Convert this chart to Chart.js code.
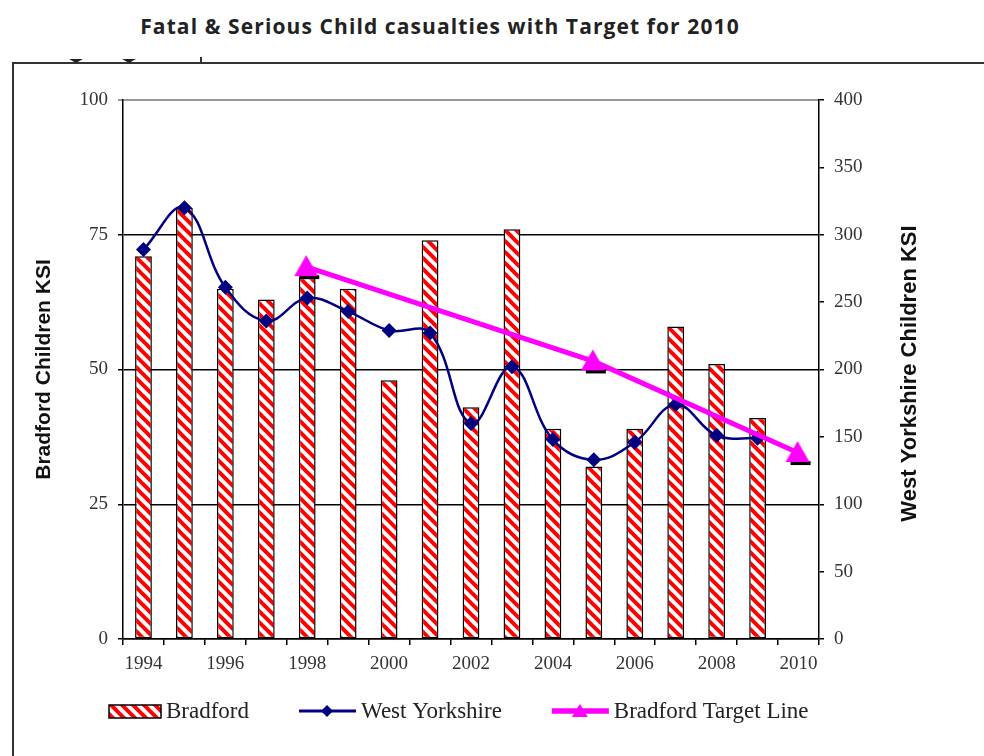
<!DOCTYPE html>
<html>
<head>
<meta charset="utf-8">
<title>Fatal &amp; Serious Child casualties with Target for 2010</title>
<script src="https://cdn.jsdelivr.net/npm/chart.js@4.4.0/dist/chart.umd.min.js"></script>
<style>
  html, body { margin: 0; padding: 0; background: #fff; width: 984px; height: 756px; overflow: hidden; }
  .title { position: absolute; left: 0; top: 12px; width: 880px; text-align: center;
    font-family: "Open Sans", sans-serif; font-weight: 700; font-size: 21px; letter-spacing: 1.1px; color: #222; }
  .frame { position: absolute; left: 12px; top: 62px; width: 1000px; height: 800px; border: 2px solid #333; }
  .nub { position: absolute; top: 59px; width: 0; height: 0; border-left: 7px solid transparent;
    border-right: 7px solid transparent; border-top: 4px solid #222; }
  .tick { position: absolute; left: 200px; top: 57px; width: 2px; height: 6px; background: #333; }
  .wrap { position: absolute; left: 0; top: 0; width: 984px; height: 756px; }
</style>
</head>
<body>
<div class="title">Fatal &amp; Serious Child casualties with Target for 2010</div>
<div class="frame"></div>
<div class="nub" style="left:69px"></div>
<div class="nub" style="left:122px"></div>
<div class="tick"></div>
<div class="wrap"><canvas id="myChart"></canvas></div>
<script>
const years = ["1994", "1995", "1996", "1997", "1998", "1999", "2000", "2001", "2002",
  "2003", "2004", "2005", "2006", "2007", "2008", "2009", "2010"];
const bradford = [71, 80, 65, 63, 67, 65, 48, 74, 43, 76, 39, 32, 39, 58, 51, 41, null];
const westYorkshire = [289, 320, 261, 236, 253, 243, 229, 227, 160, 202, 148, 133, 146, 174, 151, 149, null];
const targetLine = [null, null, null, null, 69, null, null, null, null, null, null, 51.5, null, null, null, null, 34.5];
const leftTicks = [0, 25, 50, 75, 100];
const rightTicks = [0, 50, 100, 150, 200, 250, 300, 350, 400];
const leftTitle = "Bradford Children KSI";
const rightTitle = "West Yorkshire Children KSI";

// red / white downward diagonal fill
function stripes() {
  const p = 11;
  const c = document.createElement("canvas");
  c.width = p;
  c.height = p;
  const g = c.getContext("2d");
  g.fillStyle = "#fff";
  g.fillRect(0, 0, p, p);
  g.strokeStyle = "#ff0000";
  g.lineWidth = 4;
  for (let k = -1; k <= 1; k++) {
    g.beginPath();
    g.moveTo(k * p - p, -p);
    g.lineTo(k * p + 2 * p, 2 * p);
    g.stroke();
  }
  return g.createPattern(c, "repeat");
}

// magenta triangle with the dark smudge under it
function triangleMark() {
  const c = document.createElement("canvas");
  c.width = 28;
  c.height = 28;
  const g = c.getContext("2d");
  g.fillStyle = "#000";
  g.fillRect(6, 22, 20, 4);
  g.fillStyle = "#ff00ff";
  g.beginPath();
  g.moveTo(13, 2);
  g.lineTo(25, 23);
  g.lineTo(1, 23);
  g.closePath();
  g.fill();
  return c;
}

const stripeFill = stripes();
const triImg = triangleMark();

const extras = {
  id: "extras",
  afterDraw(chart) {
    const ctx = chart.ctx;
    const y1 = chart.scales.y1;

    // right axis title reads bottom to top
    ctx.save();
    ctx.translate(910, (y1.top + y1.bottom) / 2 + 4);
    ctx.rotate(-Math.PI / 2);
    ctx.font = "bold 22px 'Liberation Sans'";
    ctx.fillStyle = "#111";
    ctx.textAlign = "center";
    ctx.textBaseline = "middle";
    ctx.fillText(rightTitle, 0, 0);
    ctx.restore();

    // legend
    ctx.save();
    let x = 109;
    const ly = 711;
    ctx.font = "23px 'Liberation Serif'";
    ctx.textBaseline = "middle";
    ctx.textAlign = "left";
    chart.data.datasets.forEach(ds => {
      if (ds.type === "bar") {
        ctx.fillStyle = ds.backgroundColor;
        ctx.fillRect(x, ly - 6, 52, 13);
        ctx.strokeStyle = "#000";
        ctx.lineWidth = 1.5;
        ctx.strokeRect(x, ly - 6, 52, 13);
        x += 53;
      } else {
        ctx.strokeStyle = ds.borderColor;
        ctx.lineWidth = ds.borderWidth + 0.5;
        ctx.beginPath();
        ctx.moveTo(x, ly);
        ctx.lineTo(x + 57, ly);
        ctx.stroke();
        const cx = x + 28;
        ctx.fillStyle = ds.borderColor;
        ctx.beginPath();
        if (ds.pointStyle === "rectRot") {
          ctx.moveTo(cx, ly - 6);
          ctx.lineTo(cx + 6, ly);
          ctx.lineTo(cx, ly + 6);
          ctx.lineTo(cx - 6, ly);
        } else {
          ctx.moveTo(cx, ly - 7);
          ctx.lineTo(cx + 8, ly + 6);
          ctx.lineTo(cx - 8, ly + 6);
        }
        ctx.closePath();
        ctx.fill();
        x += 58;
      }
      ctx.fillStyle = "#222";
      ctx.fillText(ds.label, x + 4, ly + 1);
      x += 4 + ctx.measureText(ds.label).width + 50;
    });
    ctx.restore();
  },
};

const serif = { family: "Liberation Serif", size: 19 };

var ctx = document.getElementById("myChart").getContext("2d");
var myChart = new Chart(ctx, {
  type: "bar",
  data: {
    labels: years,
    datasets: [
      {
        type: "bar",
        label: "Bradford",
        data: bradford,
        yAxisID: "y",
        backgroundColor: stripeFill,
        borderColor: "#000",
        borderWidth: 1.5,
        borderSkipped: false,
        barPercentage: 0.41,
        categoryPercentage: 1.0,
        order: 3,
      },
      {
        type: "line",
        label: "West Yorkshire",
        data: westYorkshire,
        yAxisID: "y1",
        borderColor: "#000080",
        backgroundColor: "#000080",
        borderWidth: 2.5,
        tension: 0.4,
        pointStyle: "rectRot",
        pointRadius: 7.5,
        pointBorderWidth: 0,
        order: 2,
      },
      {
        type: "line",
        label: "Bradford Target Line",
        data: targetLine,
        yAxisID: "y",
        borderColor: "#ff00ff",
        backgroundColor: "#ff00ff",
        borderWidth: 5,
        tension: 0,
        spanGaps: true,
        pointStyle: triImg,
        pointRadius: 12,
        order: 1,
      },
    ],
  },
  options: {
    responsive: true,
    maintainAspectRatio: false,
    animation: false,
    events: [],
    layout: { padding: { left: 0, right: 0, top: 100, bottom: 77 } },
    plugins: {
      legend: { display: false },
      tooltip: { enabled: false },
      title: { display: false },
    },
    scales: {
      x: {
        grid: { display: true, drawOnChartArea: false, offset: true, tickLength: 6, color: "#000", lineWidth: 1.5 },
        border: { color: "#000", width: 1.5 },
        ticks: {
          autoSkip: false,
          maxRotation: 0,
          padding: 8,
          color: "#333",
          font: serif,
          callback: (v, i) => (i % 2 === 0 ? years[i] : ""),
        },
        afterFit: s => { s.height = 40; },
      },
      y: {
        position: "left",
        min: 0,
        max: 100,
        afterBuildTicks: s => { s.ticks = leftTicks.map(v => ({ value: v })); },
        grid: {
          color: c => (c.tick && c.tick.value === 100 ? "#999" : "#000"),
          lineWidth: c => (c.tick && c.tick.value === 100 ? 2 : 1.5),
          tickLength: 5,
        },
        border: { color: "#000", width: 1.5 },
        ticks: { padding: 10, color: "#333", font: serif },
        title: {
          display: true,
          text: leftTitle,
          color: "#111",
          font: { family: "Liberation Sans", size: 21, weight: "bold" },
          padding: { top: 32, bottom: 0 },
        },
        afterFit: s => { s.width = 123; },
      },
      y1: {
        position: "right",
        min: 0,
        max: 400,
        afterBuildTicks: s => { s.ticks = rightTicks.map(v => ({ value: v })); },
        grid: { drawOnChartArea: false, tickLength: 5, color: "#000", lineWidth: 1.5 },
        border: { color: "#000", width: 1.5 },
        ticks: { padding: 10, color: "#333", font: serif },
        afterFit: s => { s.width = 165; },
      },
    },
  },
  plugins: [extras],
});
</script>
</body>
</html>
